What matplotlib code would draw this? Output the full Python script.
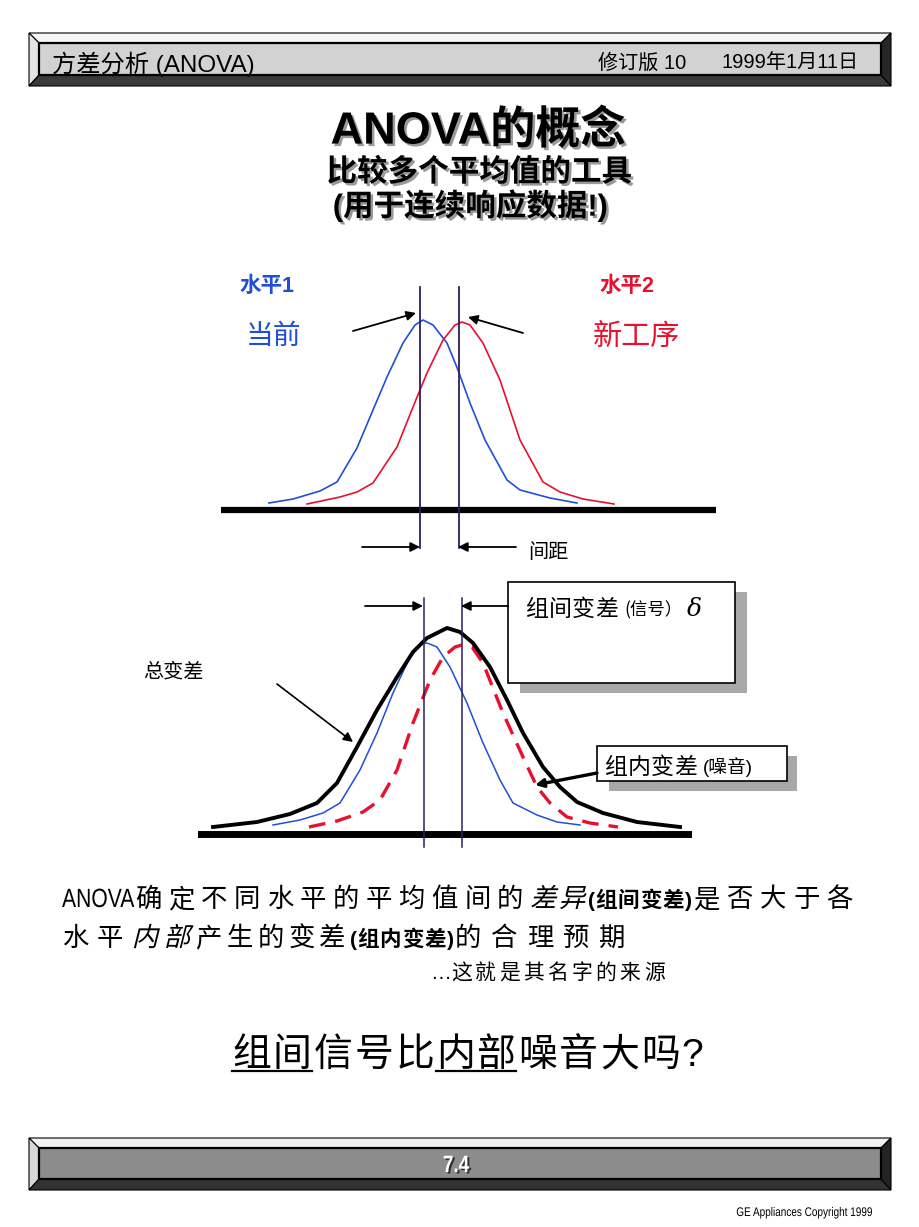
import matplotlib
matplotlib.use('Agg')
import matplotlib.pyplot as plt
import matplotlib.patheffects as pe
from matplotlib.patches import Polygon, Rectangle, PathPatch
from matplotlib.textpath import TextPath
from matplotlib.font_manager import FontProperties
from matplotlib.transforms import Affine2D

CJK = 'Noto Sans CJK SC'
plt.rcParams['font.family'] = ['Liberation Sans', CJK, 'DejaVu Sans']

BLUE = '#1f4fd8'
RED = '#e8102e'
MEAN = '#2e1f5c'

#%% texts
header_left = '方差分析 (ANOVA)'
header_rev = '修订版 10'
header_date = '1999年1月11日'
title = 'ANOVA的概念'
subtitles = ['比较多个平均值的工具', '(用于连续响应数据!)']
level_labels = ['水平1', '水平2']
level_names = ['当前', '新工序']
gap_label = '间距'
total_label = '总变差'
between_label = ['组间变差', '(信号）', 'δ']
within_label = ['组内变差', '(噪音)']
question = '组间信号比内部噪音大吗?'
page_no = '7.4'
copyright = 'GE Appliances Copyright 1999'

#%% top diagram: two levels (x = measurement, y = relative frequency)
top_blue_x = [4.8, 7.2, 9.9, 11.6, 13.6, 15.2, 16.6, 18.2, 19.4, 20.2, 21.2,
              22.6, 23.7, 24.9, 26.4, 28.6, 29.9, 32.9, 35.6]
top_blue_y = [0.035, 0.055, 0.095, 0.14, 0.31, 0.50, 0.665, 0.835, 0.925, 0.95,
              0.925, 0.835, 0.70, 0.535, 0.35, 0.15, 0.10, 0.06, 0.035]
top_red_x = [8.6, 11.9, 13.6, 15.2, 17.6, 19.2, 20.6, 22.2, 23.4, 24.1, 24.9,
             26.2, 27.9, 29.9, 32.2, 33.9, 36.2, 39.3]
top_red_y = [0.03, 0.065, 0.09, 0.135, 0.315, 0.515, 0.685, 0.85, 0.925, 0.94,
             0.925, 0.835, 0.65, 0.35, 0.14, 0.09, 0.055, 0.03]
top_means = [19.9, 23.8]

#%% bottom diagram: total variation + the two levels
bot_total_x = [1.5, 5.9, 9.2, 11.9, 13.9, 15.9, 17.9, 19.9, 21.5, 22.9, 24.9,
               26.2, 27.5, 29.2, 30.9, 32.5, 34.5, 36.2, 37.9, 40.5, 43.9, 48.2]
bot_total_y = [0.035, 0.06, 0.10, 0.155, 0.255, 0.435, 0.62, 0.785, 0.91, 0.98,
               1.03, 1.01, 0.955, 0.835, 0.67, 0.505, 0.335, 0.235, 0.16, 0.105,
               0.06, 0.035]
bot_blue_x = [7.5, 10.2, 12.5, 14.2, 16.2, 17.9, 19.5, 21.2, 22.2, 22.9, 23.9,
              25.2, 26.9, 28.5, 30.2, 31.5, 33.9, 35.9, 38.2]
bot_blue_y = [0.045, 0.07, 0.105, 0.155, 0.32, 0.505, 0.705, 0.885, 0.95, 0.955,
              0.935, 0.835, 0.655, 0.455, 0.27, 0.155, 0.095, 0.06, 0.045]
bot_red_x = [11.1, 13.9, 16.5, 18.2, 19.9, 21.5, 23.2, 24.5, 25.7, 26.4, 27.4,
             28.5, 30.5, 32.5, 33.9, 35.2, 36.9, 39.2, 42.0]
bot_red_y = [0.035, 0.065, 0.11, 0.17, 0.32, 0.555, 0.77, 0.885, 0.935, 0.945,
             0.935, 0.855, 0.605, 0.385, 0.235, 0.155, 0.085, 0.055, 0.035]
bot_means = [22.6, 26.4]

W, H = 920, 1227
fig = plt.figure(figsize=(W / 100, H / 100), dpi=100)
R = fig.canvas.get_renderer()


def px_axes(x0, x1, y0, y1):
    # axes placed by pixel box (y from the top)
    return fig.add_axes([x0 / W, 1 - y1 / H, (x1 - x0) / W, (y1 - y0) / H])


#%% top diagram
ta = px_axes(221, 716, 270, 570)
ta.set_xlim(0, 49.5)
ta.set_ylim(-0.3, 1.2)
ta.axis('off')
ta.plot(top_blue_x, top_blue_y, color=BLUE, lw=1.2)
ta.plot(top_red_x, top_red_y, color=RED, lw=1.2)
ta.axhline(0, color='k', lw=4.5)
for m in top_means:
    ta.plot([m, m], [-0.19, 1.115], color=MEAN, lw=1.3)

#%% bottom diagram
ba = px_axes(198, 692, 570, 870)
ba.set_xlim(0, 49.4)
ba.set_ylim(-0.18, 1.32)
ba.axis('off')
ba.plot(bot_blue_x, bot_blue_y, color=BLUE, lw=1.1)
ba.plot(bot_red_x, bot_red_y, color=RED, lw=2.4, dashes=(5, 3))
ba.plot(bot_total_x, bot_total_y, color='k', lw=2.8)
ba.axhline(0, color='k', lw=5)
for m in bot_means:
    ba.plot([m, m], [-0.065, 1.18], color=MEAN, lw=1.1)

#%% overlay in pixel coordinates for the slide decoration
ax = fig.add_axes([0, 0, 1, 1], zorder=5)
ax.set_xlim(0, W)
ax.set_ylim(H, 0)
ax.axis('off')


def bevel_bar(x0, x1, y0, y1, d, face, top, left, bottom, right):
    ax.add_patch(Polygon([(x0, y0), (x1, y0), (x1 - d, y0 + d), (x0 + d, y0 + d)],
                         fc=top, ec='k', lw=0.8))
    ax.add_patch(Polygon([(x0, y0), (x0 + d, y0 + d), (x0 + d, y1 - d - 1), (x0, y1)],
                         fc=left, ec='k', lw=0.8))
    ax.add_patch(Polygon([(x0, y1), (x0 + d, y1 - d - 1), (x1 - d, y1 - d - 1), (x1, y1)],
                         fc=bottom, ec='k', lw=0.8))
    ax.add_patch(Polygon([(x1, y0), (x1 - d, y0 + d), (x1 - d, y1 - d - 1), (x1, y1)],
                         fc=right, ec='k', lw=0.8))
    ax.add_patch(Rectangle((x0 + d, y0 + d), x1 - x0 - 2 * d, y1 - y0 - 2 * d - 1,
                           fc=face, ec='k', lw=1.6))


def arrow(x0, y0, x1, y1, lw=1.3, ms=14):
    ax.annotate('', xy=(x1, y1), xytext=(x0, y0),
                arrowprops=dict(arrowstyle='-|>', color='k', lw=lw,
                                mutation_scale=ms, shrinkA=0, shrinkB=0))


def path_text(x, y, s, size, weight='normal', color='k', sx=1.0, skew=0,
              ha='left', family=None):
    # text drawn as an outline so it can be condensed or slanted
    fp = FontProperties(family=family or ['Liberation Sans', CJK], weight=weight)
    tp = TextPath((0, 0), s, size=size * 100 / 72, prop=fp)
    w = tp.get_extents().x1 * sx
    if ha == 'center':
        x -= w / 2
    elif ha == 'right':
        x -= w
    tr = Affine2D().skew_deg(skew, 0).scale(sx, -1).translate(x, y)
    ax.add_patch(PathPatch(tr.transform_path(tp), fc=color, ec='none', zorder=6))
    return x + w


def text_run(x, y, pieces, color='k'):
    # pieces: (string, size, weight, kind, gap)
    for s, size, weight, kind, gap in pieces:
        em = size * 100 / 72
        if kind == 'latin':
            t = ax.text(x, y, s, fontsize=size, fontweight=weight, color=color,
                        va='baseline', ha='left')
            x += t.get_window_extent(R).width + gap
        elif kind == 'narrow':
            x = path_text(x, y, s, size, weight, color, sx=0.8) + gap
        else:
            for ch in s:
                if kind == 'ital':
                    path_text(x, y, ch, size, weight, color, skew=14, family=[CJK])
                else:
                    ax.text(x, y, ch, fontsize=size, fontweight=weight, color=color,
                            va='baseline', ha='left', family=[CJK])
                x += em + gap
    return x


# header and footer bars
bevel_bar(29, 891, 33, 86, 10, '#d2d2d2', '#f6f6f6', '#e4e4e4', '#3a3a3a', '#262626')
ax.text(52, 64, header_left, fontsize=17.5, va='center')
ax.text(598, 63, header_rev, fontsize=14.5, va='center')
ax.text(722, 63, header_date, fontsize=14.5, va='center')

bevel_bar(29, 891, 1138, 1190, 10, '#8c8c8c', '#f2f2f2', '#d6d6d6', '#333333', '#242424')
path_text(458, 1173.5, page_no, 17, 'bold', '#303030', sx=0.8, ha='center')
path_text(456, 1172, page_no, 17, 'bold', 'white', sx=0.8, ha='center')
path_text(872, 1216, copyright, 9, sx=0.8, ha='right')

# title block with drop shadow
shadow = [pe.SimplePatchShadow(offset=(1.8, -1.8), shadow_rgbFace='#9a9a9a', alpha=1),
          pe.Normal()]
for (s, y, fs, xc) in [(title, 131, 32.5, 478), (subtitles[0], 173, 22, 479),
                       (subtitles[1], 206, 22, 470)]:
    ax.text(xc, y, s, fontsize=fs, fontweight='bold', color='k',
            ha='center', va='center', path_effects=shadow)

# top diagram labels
ax.text(240, 287, level_labels[0], fontsize=15.5, fontweight='bold', color=BLUE, va='center')
ax.text(600, 287, level_labels[1], fontsize=15.5, fontweight='bold', color=RED, va='center')
ax.text(246, 337, level_names[0], fontsize=20, color=BLUE, va='center')
ax.text(593, 337, level_names[1], fontsize=21, color=RED, va='center')
arrow(353, 331, 416, 313)
arrow(523, 333, 468, 317)
arrow(362, 547, 420, 547)
arrow(516, 547, 458, 547)
ax.text(528, 553, gap_label, fontsize=14.5, va='center')

# bottom diagram boxes and labels
ax.add_patch(Rectangle((520, 592), 227, 101, fc='#a8a8a8', ec='none'))
ax.add_patch(Rectangle((508, 582), 227, 101, fc='white', ec='k', lw=1.2))
x = text_run(525, 616, [(between_label[0], 16.5, 'normal', 'cjk', 0.5)])
t = ax.text(x + 6, 615, between_label[1], fontsize=12.5, va='baseline', family=[CJK])
x += 6 + t.get_window_extent(R).width + 4
ax.text(x, 616, between_label[2], fontsize=18, style='italic', va='baseline',
        family='DejaVu Serif')
ax.add_patch(Rectangle((609, 756), 188, 35, fc='#a8a8a8', ec='none'))
ax.add_patch(Rectangle((597, 746), 190, 35, fc='white', ec='k', lw=1.2))
x = text_run(604, 774, [(within_label[0], 16.5, 'normal', 'cjk', 0.5)])
ax.text(x + 5, 773, within_label[1], fontsize=13.5, va='baseline')
arrow(365, 606, 423, 606)
arrow(508, 606, 461, 606)
ax.text(143, 672, total_label, fontsize=14.5, va='center')
arrow(277, 684, 353, 742, lw=1.2)
arrow(597, 773, 535, 785, lw=2.4, ms=12)

# explanation text
gap = 6.5
text_run(62, 907, [('ANOVA', 19, 'normal', 'narrow', 1),
                   ('确定不同水平的平均值间的', 19, 'normal', 'cjk', gap),
                   ('差异', 19, 'normal', 'ital', gap - 4),
                   ('(', 15, 'bold', 'latin', 0),
                   ('组间变差', 15.5, 'bold', 'cjk', 1),
                   (')', 15, 'bold', 'latin', 1),
                   ('是否大于各', 19, 'normal', 'cjk', gap + 0.5)])
text_run(62, 946, [('水平', 19, 'normal', 'cjk', gap + 2),
                   ('内部', 19, 'normal', 'ital', gap - 1),
                   ('产生的变差', 19, 'normal', 'cjk', gap - 2),
                   ('(', 15, 'bold', 'latin', 0),
                   ('组内变差', 15.5, 'bold', 'cjk', 1),
                   (')', 15, 'bold', 'latin', 1),
                   ('的合理预期', 19, 'normal', 'cjk', gap + 3)])
text_run(430, 979, [('…', 15, 'normal', 'latin', 0),
                    ('这就是其名字的来源', 15, 'normal', 'cjk', 3.3)])

# closing question with underlined words
qsize = 28
xs = [232]
for ch in question:
    xs.append(text_run(xs[-1], 1066, [(ch, qsize, 'normal',
                                       'latin' if ch == '?' else 'cjk', 2)]))
for i0, i1 in [(0, 2), (5, 7)]:
    ax.plot([xs[i0], xs[i1] - 2], [1071, 1071], color='k', lw=1.6)

fig.savefig('out.png', dpi=100)
